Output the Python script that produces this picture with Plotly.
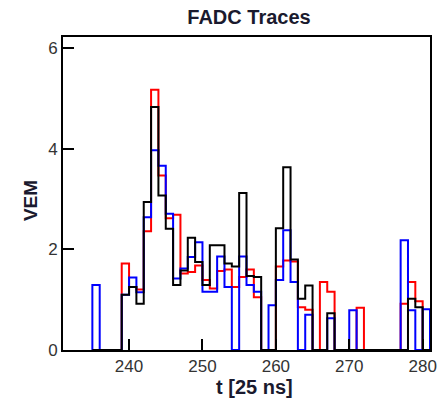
import plotly.graph_objects as go

# bin left edges (t in units of 25 ns)
t_bins = list(range(235, 281))

red_vem = [0, 0, 0, 0,
           1.72, 1.25, 1.20, 2.36, 5.17, 3.47, 2.62, 2.69, 1.52, 1.55, 1.68, 1.39, 1.22, 1.57, 1.60, 1.25, 1.45, 1.60, 1.05,
           0, 0,
           1.66, 1.78, 1.76, 0.85, 0.80,
           0,
           1.35, 1.16,
           0, 0, 0,
           0.84,
           0, 0, 0, 0, 0,
           0.92, 1.35, 0.97, 0]

blue_vem = [1.29, 0, 0, 0,
            1.10, 1.44, 1.15, 2.64, 3.97, 3.66, 2.71, 1.42, 1.62, 1.85, 2.14, 1.16, 1.16, 1.86, 1.25, 0, 1.86, 1.29, 1.16,
            0, 0.89,
            1.39, 2.38, 1.35, 0, 0.70,
            0,
            0, 0.63,
            0, 0, 0.79,
            0,
            0, 0, 0, 0, 0,
            2.18, 0.79, 0, 0.81]

black_vem = [0, 0, 0, 0,
             1.10, 1.25, 0.92, 2.94, 4.83, 3.07, 2.41, 1.29, 1.58, 2.23, 1.75, 1.29, 2.08, 2.08, 1.72, 1.66, 3.12, 1.47, 1.45,
             0, 0,
             2.42, 3.63, 1.80, 1.02, 1.28,
             0,
             0, 0.73,
             0, 0, 0,
             0,
             0, 0, 0, 0, 0,
             0, 1.02, 0.85, 0]

x_ticks = [240, 250, 260, 270, 280]
y_ticks = [0, 2, 4, 6]


def step(vals):
    xs = [t_bins[0]] + t_bins + [t_bins[-1] + 1]
    ys = [0] + list(vals) + [0]
    return xs, ys


fig = go.Figure()
for vals, col in [(red_vem, "#ff0000"), (blue_vem, "#0000ff"), (black_vem, "#000000")]:
    xs, ys = step(vals)
    fig.add_trace(go.Scatter(x=xs, y=ys, mode="lines", line=dict(color=col, width=2, shape="hv"),
                             showlegend=False, hoverinfo="skip"))

FONT = "Liberation Sans, Arial, sans-serif"

fig.update_layout(
    width=448, height=405,
    margin=dict(l=63, r=11, t=37, b=55),
    paper_bgcolor="white", plot_bgcolor="white",
    title=dict(text="<b>FADC Traces</b>", x=(249) / 448, xanchor="center",
               y=1 - 17 / 405, yanchor="middle", font=dict(family=FONT, size=20, color="#1a1a2e")),
    font=dict(family=FONT, color="#222"),
)
fig.update_xaxes(range=[231, 281], tickvals=x_ticks, ticks="inside", ticklen=11, tickwidth=2,
                 tickcolor="black", showline=True, linecolor="black", linewidth=2, mirror=True,
                 showgrid=False, zeroline=False, layer="above traces",
                 tickfont=dict(family=FONT, size=17, color="#333"))
fig.update_yaxes(range=[0, 6.22], tickvals=y_ticks, ticks="inside", ticklen=11, tickwidth=2,
                 tickcolor="black", showline=True, linecolor="black", linewidth=2, mirror=True,
                 showgrid=False, zeroline=False, layer="above traces",
                 tickfont=dict(family=FONT, size=17, color="#333"))

fig.add_annotation(text="<b>t [25 ns]</b>", xref="paper", yref="paper",
                   x=(258 - 63) / 374, y=-(387 - 350) / 313, showarrow=False,
                   xanchor="center", yanchor="middle", font=dict(family=FONT, size=20, color="#1a1a2e"))
fig.add_annotation(text="<b>VEM</b>", xref="paper", yref="paper",
                   x=(30 - 63) / 374, y=0.5 - (200 - 193) / 313, showarrow=False, textangle=-90,
                   xanchor="center", yanchor="middle", font=dict(family=FONT, size=19, color="#1a1a2e"))

fig.write_html("out.html")
